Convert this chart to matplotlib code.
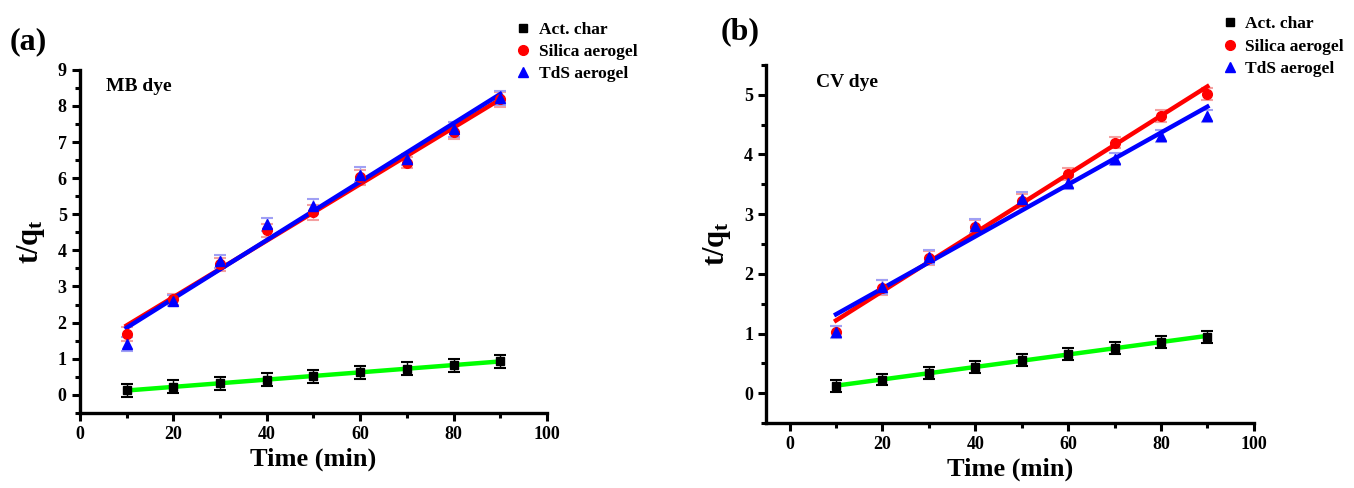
import numpy as np
import matplotlib
matplotlib.use("Agg")
import matplotlib.pyplot as plt
from matplotlib.ticker import MultipleLocator

plt.rcParams['font.family'] = ['Liberation Serif', 'DejaVu Serif']
plt.rcParams['font.weight'] = 'bold'
plt.rcParams['mathtext.fontset'] = 'custom'
plt.rcParams['mathtext.bf'] = 'Liberation Serif:bold'
plt.rcParams['mathtext.rm'] = 'Liberation Serif:bold'

time_min = [10, 20, 30, 40, 50, 60, 70, 80, 90]

# MB dye, pseudo-second-order t/qt
mb_char = [0.12, 0.22, 0.32, 0.42, 0.52, 0.62, 0.72, 0.82, 0.93]
mb_silica = [1.68, 2.65, 3.62, 4.55, 5.05, 6.02, 6.43, 7.28, 8.18]
mb_tds = [1.40, 2.60, 3.70, 4.72, 5.22, 6.10, 6.52, 7.35, 8.22]
mb_char_err = [0.18, 0.18, 0.18, 0.18, 0.18, 0.18, 0.18, 0.18, 0.18]
mb_aero_err = [0.2, 0.15, 0.18, 0.18, 0.2, 0.2, 0.15, 0.2, 0.2]

# CV dye
cv_char = [0.12, 0.23, 0.34, 0.44, 0.55, 0.65, 0.76, 0.86, 0.95]
cv_silica = [1.02, 1.77, 2.27, 2.78, 3.22, 3.68, 4.20, 4.65, 5.02]
cv_tds = [1.03, 1.78, 2.28, 2.80, 3.25, 3.52, 3.93, 4.31, 4.65]
cv_char_err = [0.1, 0.1, 0.1, 0.1, 0.1, 0.1, 0.1, 0.1, 0.1]
cv_aero_err = [0.1, 0.12, 0.12, 0.12, 0.12, 0.1, 0.1, 0.1, 0.1]

series_names = ['Act. char', 'Silica aerogel', 'TdS aerogel']


def draw_panel(ax, char, silica, tds, char_err, aero_err, dye, dye_xy):
    x = np.array(time_min)
    # linear fits
    for y, col in [(silica, 'red'), (tds, 'blue'), (char, '#00ff00')]:
        k, b = np.polyfit(x, y, 1)
        ax.plot(x, k * x + b, color=col, lw=3.2, zorder=2)

    ax.errorbar(x, char, yerr=char_err, fmt='none', ecolor='black',
                elinewidth=1.0, capsize=4, capthick=1.5, zorder=3)
    ax.errorbar(x, silica, yerr=aero_err, fmt='none', ecolor='#f4a0a0',
                elinewidth=1.0, capsize=4, capthick=1.5, zorder=1)
    ax.errorbar(x, tds, yerr=aero_err, fmt='none', ecolor='#a0a0f4',
                elinewidth=1.0, capsize=4, capthick=1.5, zorder=1)

    ax.plot(x, char, 's', color='black', ms=6, label=series_names[0], zorder=4)
    ax.plot(x, silica, 'o', color='red', ms=7, label=series_names[1], zorder=4)
    ax.plot(x, tds, '^', color='blue', ms=7.5, label=series_names[2], zorder=5)

    ax.text(dye_xy[0], dye_xy[1], dye, fontsize=14, fontweight='bold',
            va='center', ha='left')

    for side in ['top', 'right']:
        ax.spines[side].set_visible(False)
    for side in ['left', 'bottom']:
        ax.spines[side].set_linewidth(2.4)
    ax.xaxis.set_major_locator(MultipleLocator(20))
    ax.xaxis.set_minor_locator(MultipleLocator(10))
    ax.yaxis.set_minor_locator(MultipleLocator(0.5))
    ax.tick_params(which='major', direction='out', length=6, width=2.2,
                   labelsize=13)
    ax.tick_params(which='minor', direction='out', length=3.5, width=2.2)
    ax.set_xlabel('Time (min)', fontsize=19, fontweight='bold', labelpad=3)
    ax.set_ylabel(r'$\mathbf{t/q_t}$', fontsize=22, labelpad=8)


fig = plt.figure(figsize=(13.54, 4.88), dpi=100)
ax1 = fig.add_axes([0.059, 0.154, 0.345, 0.703])
ax2 = fig.add_axes([0.566, 0.133, 0.36, 0.734])

draw_panel(ax1, mb_char, mb_silica, mb_tds, mb_char_err, mb_aero_err,
           'MB dye', (5.6, 8.55))
ax1.set_xlim(0, 100)
ax1.set_ylim(-0.5, 9)
ax1.set_yticks(range(0, 10))
ax1.legend(loc='upper left', bbox_to_anchor=(0.912, 1.16), frameon=False,
           fontsize=12.5, handletextpad=0.3, labelspacing=0.35,
           handlelength=1.2, borderaxespad=0)

draw_panel(ax2, cv_char, cv_silica, cv_tds, cv_char_err, cv_aero_err,
           'CV dye', (5.6, 5.2))
ax2.set_xlim(-5, 100)
ax2.set_ylim(-0.5, 5.5)
ax2.set_yticks(range(0, 6))
ax2.legend(loc='upper left', bbox_to_anchor=(0.915, 1.155), frameon=False,
           fontsize=12.5, handletextpad=0.3, labelspacing=0.35,
           handlelength=1.2, borderaxespad=0)

fig.text(0.007, 0.915, '(a)', fontsize=23, fontweight='bold', va='center')
fig.text(0.532, 0.935, '(b)', fontsize=23, fontweight='bold', va='center')

fig.savefig('out.png', dpi=100)
